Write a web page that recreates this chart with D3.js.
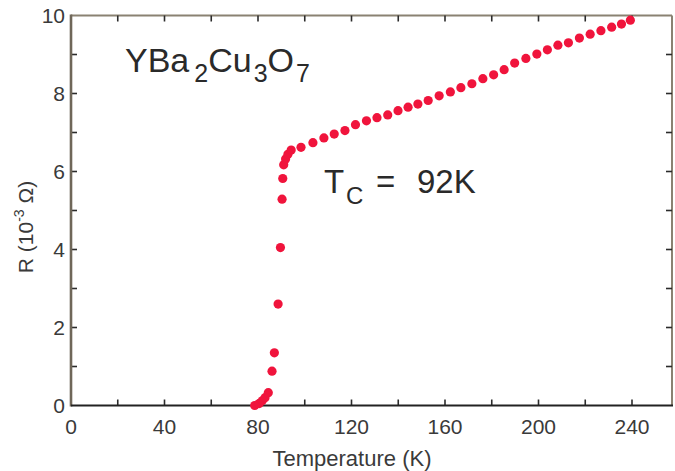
<!DOCTYPE html>
<html>
<head>
<meta charset="utf-8">
<script src="https://cdn.jsdelivr.net/npm/d3@7"></script>
<style>
  html, body { margin: 0; padding: 0; background: #ffffff; }
  svg { display: block; }
  text { font-family: "Liberation Sans", Arial, Helvetica, sans-serif; }
</style>
</head>
<body>
<script>
// ---- data ----
const temperature = [78.6, 80.5, 81.8, 83.0, 84.4, 86.0, 87.0, 88.6, 89.6, 90.3, 90.6, 91.0, 91.8, 92.8, 94.2,
  98.4, 103.5, 108.2, 112.6, 117.2, 121.7, 126.4, 130.9, 135.5, 139.9, 144.2, 148.4, 152.8, 157.5, 162.3,
  166.8, 171.5, 176.2, 180.8, 185.3, 189.8, 194.6, 199.3, 203.8, 208.3, 212.8, 217.5, 222.1, 226.7, 231.3, 235.5, 239.3];
const resistance = [0.0, 0.05, 0.12, 0.2, 0.33, 0.88, 1.35, 2.6, 4.05, 5.29, 5.82, 6.17, 6.32, 6.44, 6.55,
  6.62, 6.74, 6.86, 6.96, 7.05, 7.2, 7.3, 7.38, 7.45, 7.56, 7.65, 7.73, 7.82, 7.94, 8.04,
  8.15, 8.25, 8.38, 8.48, 8.61, 8.78, 8.9, 9.01, 9.12, 9.24, 9.3, 9.42, 9.52, 9.61, 9.7, 9.78, 9.88];
const xTickLabels = [0, 40, 80, 120, 160, 200, 240];
const xMinorTicks = [20, 60, 100, 140, 180, 220];
const yTickLabels = [0, 2, 4, 6, 8, 10];
const yMinorTicks = [1, 3, 5, 7, 9];

const W = 675, H = 471;
const svg = d3.select("body").append("svg").attr("width", W).attr("height", H);

const x = d3.scaleLinear().domain([0, 240]).range([71, 632]);
const xMax = x.invert(672);
const y = d3.scaleLinear().domain([0, 10]).range([405.5, 15.5]);

const frameCol = "#6f6759";
const tickLen = 6;
const txtCol = "#3a3a3a";

// frame: top, right
svg.append("line").attr("x1", x(0)).attr("x2", x(xMax)).attr("y1", y(10)).attr("y2", y(10))
  .attr("stroke", "#8a8272").attr("stroke-width", 2.2);
svg.append("line").attr("x1", x(xMax)).attr("x2", x(xMax)).attr("y1", y(10)).attr("y2", y(0))
  .attr("stroke", "#8a8272").attr("stroke-width", 2);

// ticks on all four sides (inward)
const allX = xTickLabels.concat(xMinorTicks).filter(d => d > 0);
const allY = yTickLabels.concat(yMinorTicks).filter(d => d > 0 && d < 10);
svg.append("g").selectAll("line").data(allX).join("line")
  .attr("x1", d => x(d)).attr("x2", d => x(d)).attr("y1", y(0)).attr("y2", y(0) - tickLen)
  .attr("stroke", "#2b2b2b").attr("stroke-width", 1.6);
svg.append("g").selectAll("line").data(allX).join("line")
  .attr("x1", d => x(d)).attr("x2", d => x(d)).attr("y1", y(10)).attr("y2", y(10) + tickLen)
  .attr("stroke", "#2b2b2b").attr("stroke-width", 1.6);
svg.append("g").selectAll("line").data(allY).join("line")
  .attr("x1", x(0)).attr("x2", x(0) + tickLen).attr("y1", d => y(d)).attr("y2", d => y(d))
  .attr("stroke", "#2b2b2b").attr("stroke-width", 1.6);
svg.append("g").selectAll("line").data(allY).join("line")
  .attr("x1", x(xMax)).attr("x2", x(xMax) - tickLen).attr("y1", d => y(d)).attr("y2", d => y(d))
  .attr("stroke", "#2b2b2b").attr("stroke-width", 1.6);

// left and bottom axis lines
svg.append("line").attr("x1", x(0)).attr("x2", x(0)).attr("y1", y(10) - 1).attr("y2", y(0) + 1)
  .attr("stroke", frameCol).attr("stroke-width", 2.6);
svg.append("line").attr("x1", x(0)).attr("x2", x(xMax) + 1).attr("y1", y(0)).attr("y2", y(0))
  .attr("stroke", "#222").attr("stroke-width", 2);

// tick labels
svg.append("g").selectAll("text").data(xTickLabels).join("text")
  .attr("x", d => x(d)).attr("y", 434).attr("text-anchor", "middle")
  .attr("font-size", 21).attr("fill", txtCol).text(d => d);
svg.append("g").selectAll("text").data(yTickLabels).join("text")
  .attr("x", 65).attr("y", d => y(d) + 7.5).attr("text-anchor", "end")
  .attr("font-size", 21).attr("fill", txtCol).text(d => d);

// axis titles
svg.append("text").attr("x", 352).attr("y", 466).attr("text-anchor", "middle")
  .attr("font-size", 22).attr("fill", txtCol).text("Temperature (K)");
const yt = svg.append("text").attr("transform", "translate(33,227) rotate(-90)")
  .attr("text-anchor", "middle").attr("font-size", 21).attr("fill", txtCol);
yt.append("tspan").text("R (10");
yt.append("tspan").attr("font-size", 14).attr("dy", -9).text("-3");
yt.append("tspan").attr("dy", 9).text(" Ω)");

// annotations
const t1 = svg.append("text").attr("x", 125).attr("y", 72).attr("font-size", 34).attr("fill", "#2a2a2a");
t1.append("tspan").text("YBa");
t1.append("tspan").attr("font-size", 25).attr("dy", 10).attr("dx", 5).text("2");
t1.append("tspan").attr("dy", -10).text("Cu");
t1.append("tspan").attr("font-size", 25).attr("dy", 10).attr("dx", 2).text("3");
t1.append("tspan").attr("dy", -10).text("O");
t1.append("tspan").attr("font-size", 25).attr("dy", 10).attr("dx", 2).text("7");

const tcBase = 193;
svg.append("text").attr("x", 324).attr("y", tcBase).attr("font-size", 33).attr("fill", "#2a2a2a").text("T");
svg.append("text").attr("x", 346).attr("y", tcBase + 11).attr("font-size", 24).attr("fill", "#2a2a2a").text("C");
svg.append("text").attr("x", 376).attr("y", tcBase).attr("font-size", 33).attr("fill", "#2a2a2a").text("=");
svg.append("text").attr("x", 417).attr("y", tcBase).attr("font-size", 33).attr("fill", "#2a2a2a").text("92K");

// data points
const pts = temperature.map((t, i) => ({ t, r: resistance[i] }));
svg.append("g").selectAll("circle").data(pts).join("circle")
  .attr("cx", d => x(d.t)).attr("cy", d => y(d.r)).attr("r", 4.6)
  .attr("fill", "#f0143c");
</script>
</body>
</html>
